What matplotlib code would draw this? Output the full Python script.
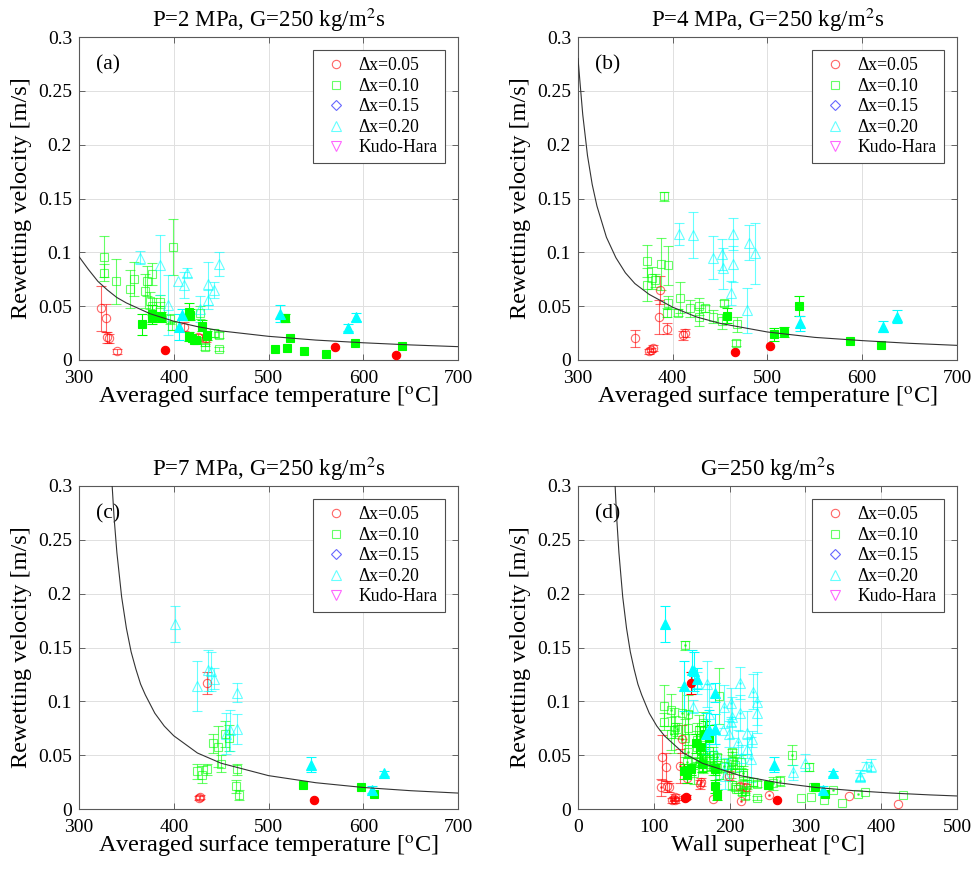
import matplotlib
matplotlib.use("Agg")
import matplotlib.pyplot as plt
from matplotlib.colors import to_rgba
from matplotlib.lines import Line2D

# ---------------------------------------------------------- #
#  Data: (temperature, velocity, error)   #
# ---------------------------------------------------------- #
TSAT_2MPA = 212.4   # degC
TSAT_4MPA = 250.4
TSAT_7MPA = 285.8

# (a) P = 2 MPa
A_RED_OPEN = [(323, 0.048, 0.021), (329, 0.039, 0.013), (330, 0.021, 0.005),
              (332, 0.020, 0.004), (340, 0.008, 0.002), (411, 0.031, 0.004),
              (426, 0.021, 0.003), (434, 0.020, 0.003)]
A_RED_FILL = [(391, 0.009, 0), (570, 0.012, 0), (635, 0.005, 0)]
A_GREEN_OPEN = [(326, 0.096, 0.019), (326, 0.081, 0.008), (339, 0.073, 0.021),
                (354, 0.066, 0.018), (358, 0.075, 0.016), (370, 0.064, 0.016),
                (372, 0.073, 0.014), (377, 0.080, 0.010), (375, 0.055, 0.008),
                (377, 0.050, 0.008), (385, 0.054, 0.006), (386, 0.046, 0.008),
                (396, 0.038, 0.005), (399, 0.105, 0.026), (398, 0.032, 0.004),
                (428, 0.044, 0.006), (433, 0.017, 0.004), (433, 0.012, 0.003),
                (443, 0.025, 0.004), (448, 0.023, 0.003), (448, 0.010, 0.002)]
A_GREEN_FILL = [(366, 0.033, 0.010), (377, 0.043, 0.008), (377, 0.039, 0.006),
                (387, 0.040, 0.005), (416, 0.045, 0.008), (417, 0.042, 0.005),
                (416, 0.022, 0.004), (419, 0.020, 0), (421, 0.019, 0),
                (424, 0.019, 0), (430, 0.032, 0.005), (435, 0.023, 0.004),
                (507, 0.010, 0), (517, 0.039, 0.004), (520, 0.011, 0),
                (523, 0.020, 0), (537, 0.008, 0), (561, 0.006, 0),
                (591, 0.016, 0), (641, 0.013, 0)]
A_CYAN_OPEN = [(364, 0.095, 0.006), (385, 0.088, 0.028), (394, 0.051, 0.028),
               (404, 0.073, 0), (411, 0.070, 0.012), (414, 0.081, 0.004),
               (428, 0.047, 0.012), (436, 0.071, 0.020), (442, 0.065, 0.007),
               (436, 0.056, 0.009), (448, 0.089, 0.011)]
A_CYAN_FILL = [(406, 0.031, 0.012), (409, 0.042, 0.005), (512, 0.043, 0.008),
               (584, 0.030, 0.003), (592, 0.040, 0.004)]
CURVE_A_T = [300, 310, 320, 330, 340, 350, 375, 400, 425, 450, 500, 550, 600, 650, 700]
CURVE_A_V = [0.096, 0.084, 0.073, 0.065, 0.058, 0.053, 0.043, 0.036, 0.031,
             0.027, 0.022, 0.0185, 0.016, 0.014, 0.0124]

# (b) P = 4 MPa
B_RED_OPEN = [(360, 0.020, 0.008), (375, 0.008, 0.002), (377, 0.009, 0.002),
              (379, 0.011, 0.003), (387, 0.065, 0.013), (385, 0.040, 0.016),
              (394, 0.029, 0.005), (411, 0.023, 0.004), (413, 0.025, 0.004)]
B_RED_FILL = [(466, 0.0075, 0), (503, 0.013, 0)]
B_GREEN_OPEN = [(373, 0.092, 0.015), (373, 0.070, 0.015), (378, 0.076, 0.010),
                (381, 0.074, 0.006), (388, 0.089, 0.024), (391, 0.152, 0.004),
                (395, 0.088, 0.018), (394, 0.044, 0.004), (395, 0.053, 0.006),
                (406, 0.044, 0.003), (408, 0.058, 0.014), (418, 0.048, 0.008),
                (428, 0.050, 0.008), (428, 0.040, 0.008), (434, 0.048, 0.003),
                (443, 0.040, 0.006), (452, 0.036, 0.007), (454, 0.053, 0.003),
                (468, 0.033, 0.007), (467, 0.016, 0.003)]
B_GREEN_FILL = [(457, 0.041, 0.007), (507, 0.024, 0.006), (517, 0.026, 0.005),
                (533, 0.050, 0.009), (587, 0.018, 0), (620, 0.014, 0)]
B_CYAN_OPEN = [(407, 0.117, 0.010), (421, 0.116, 0.021), (443, 0.095, 0.020),
               (452, 0.098, 0.014), (453, 0.085, 0.019), (464, 0.117, 0.015),
               (464, 0.089, 0.017), (462, 0.062, 0.011), (478, 0.046, 0.021),
               (481, 0.109, 0.016), (487, 0.099, 0.028)]
B_CYAN_FILL = [(534, 0.034, 0.007), (622, 0.031, 0.005), (637, 0.040, 0.006)]
CURVE_B_T = [300, 302, 305, 310, 315, 320, 330, 340, 350, 360, 375, 400, 425,
             450, 500, 550, 600, 650, 700]
CURVE_B_V = [0.28, 0.259, 0.228, 0.19, 0.163, 0.143, 0.114, 0.095, 0.081, 0.071,
             0.061, 0.049, 0.040, 0.034, 0.026, 0.021, 0.018, 0.0155, 0.0136]

# (c) P = 7 MPa
C_RED_OPEN = [(435, 0.117, 0.010), (427, 0.010, 0.002), (428, 0.011, 0.002)]
C_RED_FILL = [(548, 0.008, 0)]
C_GREEN_OPEN = [(425, 0.035, 0.007), (430, 0.032, 0.008), (435, 0.037, 0.005),
                (441, 0.061, 0.009), (447, 0.058, 0.019), (450, 0.042, 0.008),
                (454, 0.070, 0.012), (458, 0.066, 0.012), (467, 0.037, 0.005),
                (466, 0.021, 0.006), (469, 0.013, 0.005)]
C_GREEN_FILL = [(536, 0.022, 0), (598, 0.020, 0), (611, 0.014, 0)]
C_CYAN_OPEN = [(401, 0.172, 0.017), (425, 0.114, 0.023), (436, 0.129, 0.019),
               (439, 0.128, 0.018), (443, 0.121, 0.010), (467, 0.108, 0.009),
               (455, 0.070, 0.019), (459, 0.073, 0.019), (467, 0.074, 0.014)]
C_CYAN_FILL = [(545, 0.041, 0.007), (609, 0.018, 0.003), (622, 0.033, 0.002)]
CURVE_C_T = [335, 337, 340, 345, 350, 355, 360, 365, 370, 380, 390, 400, 425,
             450, 500, 550, 600, 650, 700]
CURVE_C_V = [0.30, 0.271, 0.238, 0.197, 0.168, 0.146, 0.13, 0.116, 0.106, 0.089,
             0.077, 0.068, 0.052, 0.0425, 0.031, 0.0244, 0.020, 0.017, 0.0148]

# (d) all pressures vs wall superheat
CURVE_D_DT = [49, 51, 54, 59, 64, 69, 74, 79, 84, 94, 104, 114, 139, 164, 214,
              264, 314, 364, 414, 464, 500]
CURVE_D_V = [0.30, 0.271, 0.238, 0.197, 0.168, 0.146, 0.13, 0.116, 0.106, 0.089,
             0.077, 0.068, 0.052, 0.0425, 0.031, 0.0244, 0.020, 0.017, 0.0148,
             0.0131, 0.0121]

LEGEND_LABELS = ['\u0394x=0.05', '\u0394x=0.10', '\u0394x=0.15', '\u0394x=0.20', 'Kudo-Hara']
LEGEND_MARKERS = ['o', 's', 'D', '^', 'v']
LEGEND_COLORS = ['red', 'lime', 'blue', 'cyan', 'magenta']

Y_TICKS = [0, 0.05, 0.1, 0.15, 0.2, 0.25, 0.3]
Y_TICK_LABELS = ['0', '0.05', '0.1', '0.15', '0.2', '0.25', '0.3']

# ---------------------------------------------------------- #
#  Style                                                     #
# ---------------------------------------------------------- #
RED = 'red'
GREEN = 'lime'
CYAN = 'cyan'
OPEN_ALPHA = 0.6
MS = {'o': 6.0, 's': 5.5, '^': 6.5, 'D': 5.0, 'v': 6.5}

plt.rcParams['font.family'] = ['Liberation Serif', 'DejaVu Serif']
plt.rcParams['mathtext.fontset'] = 'stix'


def plot_series(ax, pts, color, marker, filled, shift=0.0, dot=False):
    """
        Markers with error bars for one group of points
    """
    alpha = 1.0 if filled else OPEN_ALPHA
    rgba = to_rgba(color, alpha)
    xs = [p[0] - shift for p in pts]
    vs = [p[1] for p in pts]
    err = [(p[0] - shift, p[1], p[2]) for p in pts if p[2] > 0]
    if err:
        ax.errorbar([e[0] for e in err], [e[1] for e in err],
                    yerr=[e[2] for e in err], fmt='none', ecolor=rgba,
                    elinewidth=0.8, capsize=3.5, capthick=0.8, zorder=2)
    ax.plot(xs, vs, ls='none', marker=marker, ms=MS[marker], mec=rgba,
            mfc=rgba if filled else 'none', mew=0.8, zorder=3)
    if dot:
        ax.plot(xs, vs, ls='none', marker='.', ms=2.0, color=rgba, zorder=3)


def setup_axes(ax, xlim, xticks, xlabel, title, tag):
    ax.set_xlim(*xlim)
    ax.set_ylim(0, 0.3)
    ax.set_xticks(xticks)
    ax.set_yticks(Y_TICKS)
    ax.set_yticklabels(Y_TICK_LABELS)
    ax.grid(True, color='0.88', linewidth=0.7)
    ax.set_axisbelow(True)
    ax.tick_params(direction='in', top=True, right=True, length=4, width=0.6,
                   color='0.3', labelsize=14)
    ax.tick_params(axis='x', pad=7)
    ax.tick_params(axis='y', pad=5)
    for sp in ax.spines.values():
        sp.set_color('0.35')
        sp.set_linewidth(0.8)
    ax.set_xlabel(xlabel, fontsize=17.5, labelpad=-1)
    ax.set_ylabel('Rewetting velocity [m/s]', fontsize=17.5, labelpad=4)
    ax.set_title(title, fontsize=16.5, pad=7)
    ax.text(0.077, 0.913, tag, transform=ax.transAxes, fontsize=15.5,
            ha='center', va='center')

    handles = [Line2D([], [], ls='none', marker=m, ms=MS[m], mfc='none',
                      mec=to_rgba(c, 0.6), mew=0.8)
               for m, c in zip(LEGEND_MARKERS, LEGEND_COLORS)]
    leg = ax.legend(handles, LEGEND_LABELS, loc='upper right', fontsize=12.7,
                    frameon=True, fancybox=False, framealpha=1,
                    edgecolor='0.3', borderpad=0.4, labelspacing=0.2,
                    handlelength=1.8, handletextpad=0.4, borderaxespad=0.75)
    leg.get_frame().set_linewidth(0.8)


def main():
    fig = plt.figure(figsize=(9.79, 8.83), dpi=100)
    w, h = 379 / 979, 323 / 883
    ax_a = fig.add_axes([79 / 979, 1 - 360 / 883, w, h])
    ax_b = fig.add_axes([578 / 979, 1 - 360 / 883, w, h])
    ax_c = fig.add_axes([79 / 979, 1 - 809 / 883, w, h])
    ax_d = fig.add_axes([578 / 979, 1 - 809 / 883, w, h])

    temp_label = 'Averaged surface temperature [$^{\\mathrm{o}}$C]'
    temp_ticks = [300, 400, 500, 600, 700]

    panels = [
        (ax_a, [A_RED_OPEN, A_RED_FILL, A_GREEN_OPEN, A_GREEN_FILL, A_CYAN_OPEN, A_CYAN_FILL],
         CURVE_A_T, CURVE_A_V, 'P=2 MPa, G=250 kg/m$^2$s', '(a)'),
        (ax_b, [B_RED_OPEN, B_RED_FILL, B_GREEN_OPEN, B_GREEN_FILL, B_CYAN_OPEN, B_CYAN_FILL],
         CURVE_B_T, CURVE_B_V, 'P=4 MPa, G=250 kg/m$^2$s', '(b)'),
        (ax_c, [C_RED_OPEN, C_RED_FILL, C_GREEN_OPEN, C_GREEN_FILL, C_CYAN_OPEN, C_CYAN_FILL],
         CURVE_C_T, CURVE_C_V, 'P=7 MPa, G=250 kg/m$^2$s', '(c)'),
    ]
    styles = [(RED, 'o', False), (RED, 'o', True), (GREEN, 's', False),
              (GREEN, 's', True), (CYAN, '^', False), (CYAN, '^', True)]

    for ax, groups, ct, cv, title, tag in panels:
        for pts, (col, mk, filled) in zip(groups, styles):
            plot_series(ax, pts, col, mk, filled)
        ax.plot(ct, cv, color='0.2', lw=0.8, zorder=4)
        setup_axes(ax, (300, 700), temp_ticks, temp_label, title, tag)

    # (d) same points against wall superheat
    colours = [(RED, 'o'), (RED, 'o'), (GREEN, 's'), (GREEN, 's'), (CYAN, '^'), (CYAN, '^')]
    for groups, tsat, filled, dot in [
            ([A_RED_OPEN, A_RED_FILL, A_GREEN_OPEN, A_GREEN_FILL, A_CYAN_OPEN, A_CYAN_FILL],
             TSAT_2MPA, False, False),
            ([B_RED_OPEN, B_RED_FILL, B_GREEN_OPEN, B_GREEN_FILL, B_CYAN_OPEN, B_CYAN_FILL],
             TSAT_4MPA, False, True),
            ([C_RED_OPEN, C_RED_FILL, C_GREEN_OPEN, C_GREEN_FILL, C_CYAN_OPEN, C_CYAN_FILL],
             TSAT_7MPA, True, False)]:
        for pts, (col, mk) in zip(groups, colours):
            plot_series(ax_d, pts, col, mk, filled, shift=tsat, dot=dot)
    ax_d.plot(CURVE_D_DT, CURVE_D_V, color='0.2', lw=0.8, zorder=4)
    setup_axes(ax_d, (0, 500), [0, 100, 200, 300, 400, 500],
               'Wall superheat [$^{\\mathrm{o}}$C]', 'G=250 kg/m$^2$s', '(d)')

    fig.savefig('out.png', dpi=100)


if __name__ == "__main__":
    main()
